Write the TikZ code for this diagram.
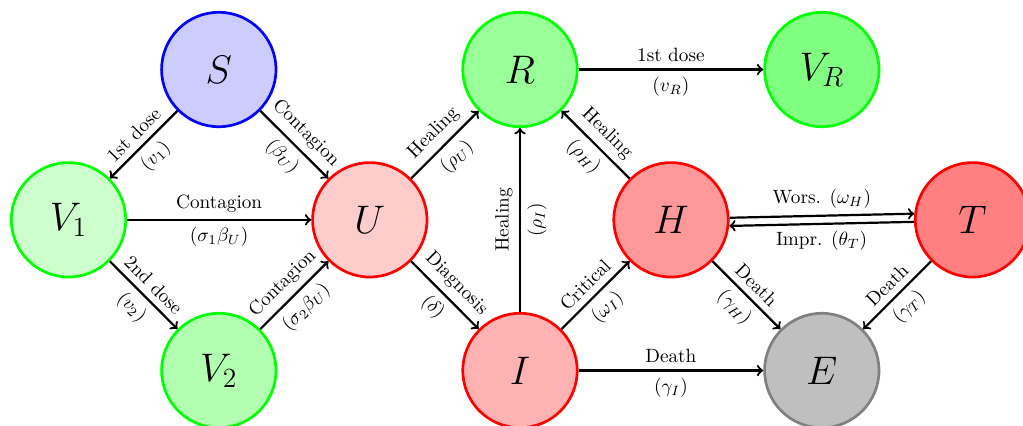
\documentclass[tikz,border=0pt]{standalone}
\usetikzlibrary{arrows}
\begin{document}
\begin{tikzpicture}[x=0.52pt,y=-0.52pt,
  state/.style={circle,minimum size=59.5pt,inner sep=0pt,line width=1.4pt,font=\fontsize{22}{24}\selectfont},
  flow/.style={->,line width=1.15pt},
  lab/.style={sloped,font=\normalsize}]
\useasboundingbox (0,0) rectangle (1023,425);
\node[state,draw=blue,fill=blue!20] (S) at (218.8,69.5) {$S$};
\node[state,draw=green,fill=green!40] (R) at (520,69.5) {$R$};
\node[state,draw=green,fill=green!50] (VR) at (821.8,69.5) {$V_R$};
\node[state,draw=green,fill=green!20] (V1) at (68.5,219.8) {$V_1$};
\node[state,draw=red,fill=red!20] (U) at (369.8,219.8) {$U$};
\node[state,draw=red,fill=red!40] (H) at (671,219.8) {$H$};
\node[state,draw=red,fill=red!50] (T) at (972.5,219.8) {$T$};
\node[state,draw=green,fill=green!30] (V2) at (218.8,370.5) {$V_2$};
\node[state,draw=red,fill=red!30] (I) at (520,370.5) {$I$};
\node[state,draw=black!50,fill=black!25] (E) at (821.8,370.5) {$E$};

\draw[flow] (S) -- node[lab,above]{1st dose} node[lab,below]{$(v_1)$} (V1);
\draw[flow] (S) -- node[lab,above]{Contagion} node[lab,below]{$(\beta_U)$} (U);
\draw[flow] (V1) -- node[lab,above]{Contagion} node[lab,below]{$(\sigma_1\beta_U)$} (U);
\draw[flow] (V1) -- node[lab,above]{2nd dose} node[lab,below]{$(v_2)$} (V2);
\draw[flow] (V2) -- node[lab,above]{Contagion} node[lab,below]{$(\sigma_2\beta_U)$} (U);
\draw[flow] (U) -- node[lab,above]{Healing} node[lab,below]{$(\rho_U)$} (R);
\draw[flow] (U) -- node[lab,above]{Diagnosis} node[lab,below]{$(\delta)$} (I);
\draw[flow] (I) -- node[lab,above]{Healing} node[lab,below]{$(\rho_I)$} (R);
\draw[flow] (H) -- node[lab,above]{Healing} node[lab,below]{$(\rho_H)$} (R);
\draw[flow] (I) -- node[lab,above]{Critical} node[lab,below]{$(\omega_I)$} (H);
\draw[flow] (I) -- node[lab,above]{Death} node[lab,below]{$(\gamma_I)$} (E);
\draw[flow] (H) -- node[lab,above]{Death} node[lab,below]{$(\gamma_H)$} (E);
\draw[flow] (T) -- node[lab,above]{Death} node[lab,below]{$(\gamma_T)$} (E);
\draw[flow] (R) -- node[lab,above]{1st dose} node[lab,below]{$(v_R)$} (VR);
\draw[flow] (H.2) -- node[above]{Wors. $(\omega_H)$} (T.174);
\draw[flow] (T.182) -- node[below]{Impr. $(\theta_T)$} (H.354);
\end{tikzpicture}
\end{document}
